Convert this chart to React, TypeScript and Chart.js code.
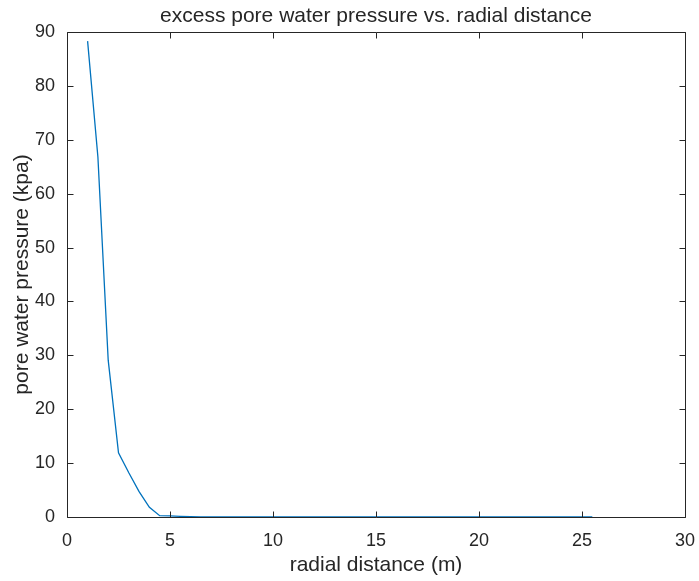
import React, { useEffect, useRef } from "react";
import { Chart, registerables } from "chart.js";

Chart.register(...registerables);

const radialDistance: number[] = [
  1, 1.5, 2, 2.5, 3, 3.5, 4, 4.5, 5, 5.5, 6, 6.5, 7, 7.5, 8, 8.5, 9, 9.5, 10,
  10.5, 11, 11.5, 12, 12.5, 13, 13.5, 14, 14.5, 15, 15.5, 16, 16.5, 17, 17.5,
  18, 18.5, 19, 19.5, 20, 20.5, 21, 21.5, 22, 22.5, 23, 23.5, 24, 24.5, 25, 25.5,
];
const porePressure: number[] = [
  88.3, 66.8, 29.1, 11.9, 8.2, 4.7, 1.8, 0.25, 0.2, 0.12, 0.07, 0.04, 0.02,
  0.01, 0, 0, 0, 0, 0, 0, 0, 0, 0, 0, 0, 0, 0, 0, 0, 0, 0, 0, 0, 0, 0, 0, 0,
  0, 0, 0, 0, 0, 0, 0, 0, 0, 0, 0, 0, 0,
];
const xTicks: number[] = [0, 5, 10, 15, 20, 25, 30];
const yTicks: number[] = [0, 10, 20, 30, 40, 50, 60, 70, 80, 90];

const titleText = "excess pore water pressure vs. radial distance";
const xLabel = "radial distance (m)";
const yLabel = "pore water pressure (kpa)";

const FONT = "'Liberation Sans', Arial, Helvetica, sans-serif";
const TEXT = "#262626";
const AXIS = "#262626";
const LINE = "#0072BD";

const boxPlugin = {
  id: "matlabBox",
  afterDatasetsDraw(chart: any) {
    const { ctx, chartArea } = chart;
    const { left, right, top, bottom } = chartArea;
    const xs = chart.scales.x;
    const ys = chart.scales.y;
    const tl = 6;
    ctx.save();
    ctx.strokeStyle = AXIS;
    ctx.lineWidth = 1;
    const L = Math.round(left) + 0.5;
    const R = Math.round(right) + 0.5;
    const T = Math.round(top) + 0.5;
    const B = Math.round(bottom) + 0.5;
    ctx.beginPath();
    ctx.rect(L, T, R - L, B - T);
    ctx.stroke();
    ctx.beginPath();
    xTicks.forEach((v) => {
      const px = Math.round(xs.getPixelForValue(v)) + 0.5;
      ctx.moveTo(px, B);
      ctx.lineTo(px, B - tl);
      ctx.moveTo(px, T);
      ctx.lineTo(px, T + tl);
    });
    yTicks.forEach((v) => {
      const py = Math.round(ys.getPixelForValue(v)) + 0.5;
      ctx.moveTo(L, py);
      ctx.lineTo(L + tl, py);
      ctx.moveTo(R, py);
      ctx.lineTo(R - tl, py);
    });
    ctx.stroke();
    // title centred over the plot area, as MATLAB does
    ctx.fillStyle = TEXT;
    ctx.font = `21px ${FONT}`;
    ctx.textAlign = "center";
    ctx.textBaseline = "alphabetic";
    ctx.fillText(titleText, (left + right) / 2, 22);
    ctx.restore();
  },
};

export default function App() {
  const ref = useRef<HTMLCanvasElement | null>(null);

  useEffect(() => {
    if (!ref.current) return;
    const chart = new Chart(ref.current, {
      type: "line",
      data: {
        datasets: [
          {
            data: radialDistance.map((x, i) => ({ x, y: porePressure[i] })),
            borderColor: LINE,
            borderWidth: 1.3,
            pointRadius: 0,
            fill: false,
            tension: 0,
          },
        ],
      },
      options: {
        animation: false,
        responsive: false,
        layout: { padding: { left: 0, right: 14, top: 32, bottom: 0 } },
        plugins: {
          legend: { display: false },
          tooltip: { enabled: false },
          title: { display: false },
        },
        scales: {
          x: {
            type: "linear",
            min: 0,
            max: 30,
            grid: { display: false, drawTicks: false },
            border: { display: false },
            afterBuildTicks: (s: any) => {
              s.ticks = xTicks.map((v) => ({ value: v }));
            },
            afterFit: (s: any) => {
              s.height = 64;
              s.paddingLeft = 0;
              s.paddingRight = 0;
            },
            ticks: {
              color: TEXT,
              font: { family: FONT, size: 18 },
              padding: 13,
              maxRotation: 0,
            },
            title: {
              display: true,
              text: xLabel,
              color: TEXT,
              font: { family: FONT, size: 21 },
              padding: { top: 0, bottom: 3 },
            },
          },
          y: {
            type: "linear",
            min: 0,
            max: 90,
            grid: { display: false, drawTicks: false },
            border: { display: false },
            afterBuildTicks: (s: any) => {
              s.ticks = yTicks.map((v) => ({ value: v }));
            },
            afterFit: (s: any) => {
              s.width = 67;
              s.paddingTop = 0;
              s.paddingBottom = 0;
            },
            ticks: {
              color: TEXT,
              font: { family: FONT, size: 18 },
              padding: 12,
            },
            title: {
              display: true,
              text: yLabel,
              color: TEXT,
              font: { family: FONT, size: 21 },
              padding: { top: 10, bottom: 0 },
            },
          },
        },
      },
      plugins: [boxPlugin],
    } as any);
    return () => chart.destroy();
  }, []);

  return (
    <div style={{ position: "absolute", left: 0, top: 0, width: 699, height: 581, background: "#fff" }}>
      <canvas ref={ref} width={699} height={581} style={{ display: "block" }} />
    </div>
  );
}
